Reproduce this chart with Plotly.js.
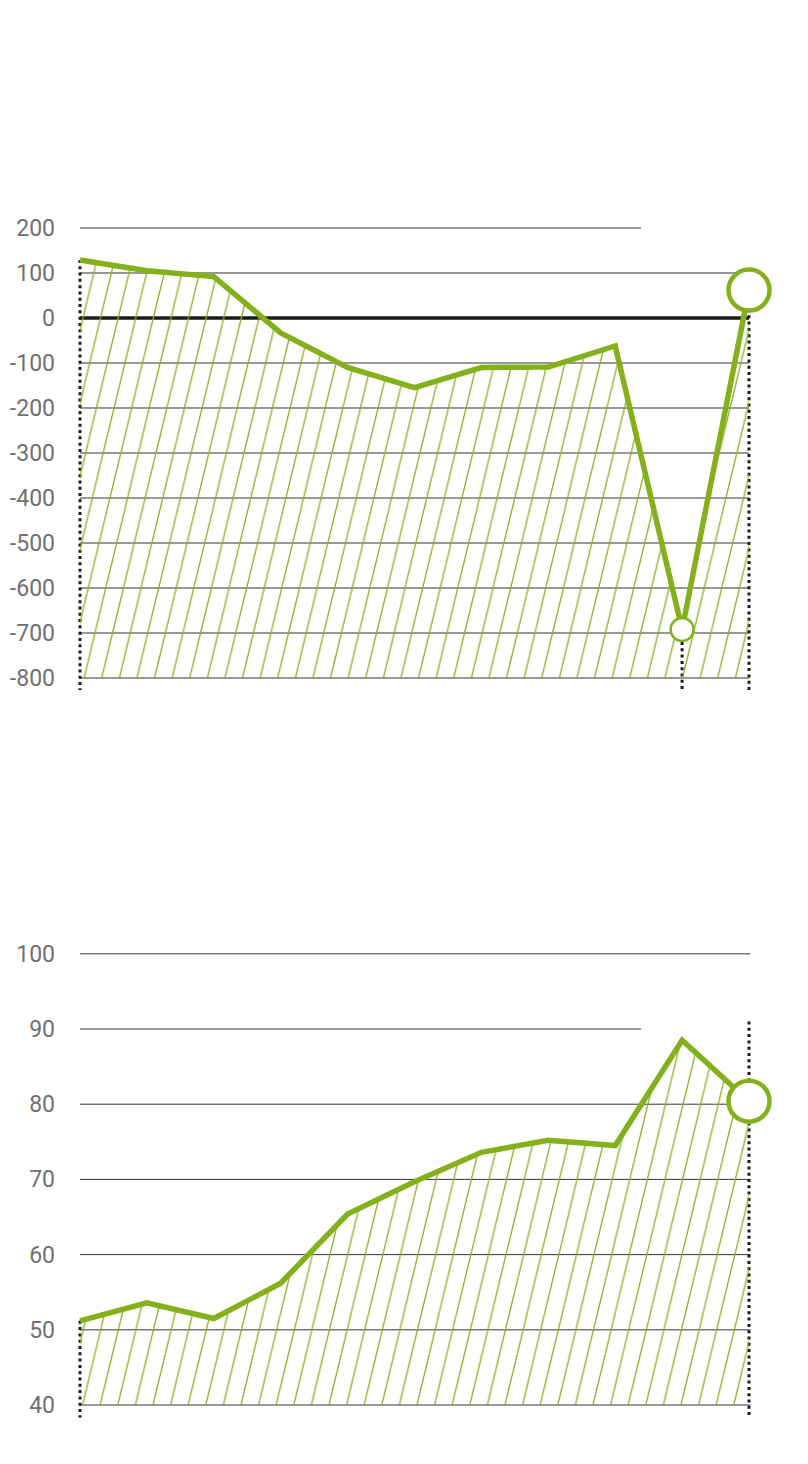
<!DOCTYPE html>
<html><head><meta charset="utf-8">
<script src="https://cdn.plot.ly/plotly-3.0.1.min.js"></script>
<style>html,body{margin:0;padding:0;background:#fff}#chart{width:808px;height:1464px}</style>
</head><body><div id="chart"></div>
<script>
// ---- data ----
const periods = [0,1,2,3,4,5,6,7,8,9,10];
const topValues = [129,105,92,-33,-110,-155,-110,-109,-62,-692,62];
const topTickVals = [200,100,0,-100,-200,-300,-400,-500,-600,-700,-800];
const topTickText = ["200","100","0","-100","-200","-300","-400","-500","-600","-700","-800"];
const bottomValues = [51.2,53.6,51.5,56.2,65.4,69.7,73.6,75.2,74.5,88.5,80.4];
const bottomTickVals = [100,90,80,70,60,50,40];
const bottomTickText = ["100","90","80","70","60","50","40"];
const bottomGuideTop = 91;

// ---- style ----
const GREEN = '#84b01b';
const GRID = '#333';
const DOT = '#1a1a1a';
const topRange = [-827, 205];
const botRange = [38.3, 101];
const xRange = [-10/66.9, 10 + 59/66.9];
const last = periods.length - 1;

const topBase = topTickVals[topTickVals.length-1];
const botBase = bottomTickVals[bottomTickVals.length-1];

function dotted(x, y0, y1, ax) {
  return {x:[x,x], y:[y0,y1], xaxis:'x'+ax, yaxis:'y'+ax, mode:'lines',
    line:{color:DOT, width:3, dash:'3px,3.3px'}, hoverinfo:'skip', showlegend:false, cliponaxis:false};
}
function marker(x, y, size, lw, ax) {
  return {x:[x], y:[y], xaxis:'x'+ax, yaxis:'y'+ax, mode:'markers',
    marker:{size:size, color:'#fff', line:{color:GREEN, width:lw}},
    hoverinfo:'skip', showlegend:false, cliponaxis:false};
}
const pattern = {shape:'/', fgcolor:GREEN, bgcolor:'rgba(0,0,0,0)', size:10, solidity:0.075, fillmode:'replace'};

const traces = [
  dotted(periods[0], topValues[0], topRange[0], ''),
  dotted(periods[9], topValues[9], topRange[0], ''),
  dotted(periods[last], topValues[last], topRange[0], ''),
  {x:periods, y:periods.map(()=>topBase), mode:'lines', line:{width:0}, hoverinfo:'skip', showlegend:false},
  {x:periods, y:topValues, mode:'lines', fill:'tonexty', fillcolor:'rgba(0,0,0,0)', fillpattern:pattern,
   line:{color:GREEN, width:5.5}, hoverinfo:'skip', showlegend:false, cliponaxis:false},
  marker(periods[9], topValues[9], 23, 2.5, ''),
  marker(periods[last], topValues[last], 41, 4.5, ''),

  dotted(periods[0], bottomValues[0], botRange[0], '2'),
  dotted(periods[last], bottomGuideTop, botRange[0], '2'),
  {x:periods, y:periods.map(()=>botBase), xaxis:'x2', yaxis:'y2', mode:'lines', line:{width:0}, hoverinfo:'skip', showlegend:false},
  {x:periods, y:bottomValues, xaxis:'x2', yaxis:'y2', mode:'lines', fill:'tonexty', fillcolor:'rgba(0,0,0,0)', fillpattern:pattern,
   line:{color:GREEN, width:5.5}, hoverinfo:'skip', showlegend:false, cliponaxis:false},
  marker(periods[last], bottomValues[last], 41, 4.5, '2')
];

const shapes = [];
topTickVals.forEach(v => {
  if (v === 0) return;
  shapes.push({type:'line', xref:'x', yref:'y', x0:0, x1:(v===200?8.385:10), y0:v, y1:v, line:{color:GRID, width:1}, layer:'below'});
});
shapes.push({type:'line', xref:'x', yref:'y', x0:0, x1:10, y0:0, y1:0, line:{color:'#1a1a1a', width:3.5}, layer:'below'});
bottomTickVals.forEach(v => {
  shapes.push({type:'line', xref:'x2', yref:'y2', x0:0, x1:(v===90?8.385:10.02), y0:v, y1:v, line:{color:GRID, width:1}, layer:'below'});
});

const tickfont = {family:'Roboto, "Noto Sans", sans-serif', size:23, weight:400, color:'#707070'};
const yBase = {showgrid:false, zeroline:false, showline:false, ticks:'', tickfont:tickfont, ticklabelstandoff:14, fixedrange:true};
const xBase = {range:xRange, showgrid:false, zeroline:false, showline:false, showticklabels:false, ticks:'', fixedrange:true};

const layout = {
  width:808, height:1464, margin:{l:70, r:0, t:0, b:0},
  paper_bgcolor:'#fff', plot_bgcolor:'rgba(0,0,0,0)', showlegend:false,
  xaxis:Object.assign({anchor:'y', domain:[0,1]}, xBase),
  xaxis2:Object.assign({anchor:'y2', domain:[0,1]}, xBase),
  yaxis:Object.assign({anchor:'x', domain:[0.52858, 0.84580], range:topRange, tickvals:topTickVals, ticktext:topTickText}, yBase),
  yaxis2:Object.assign({anchor:'x2', domain:[0.03156, 0.35363], range:botRange, tickvals:bottomTickVals, ticktext:bottomTickText}, yBase),
  shapes:shapes
};

const gd = document.getElementById('chart');
Plotly.newPlot(gd, traces, layout, {staticPlot:true, displayModeBar:false}).then(() => {
  // stretch the diagonal hatch tiles into steep hatching
  gd.querySelectorAll('pattern').forEach(p => {
    p.setAttribute('patternTransform', 'scale(1.2445,5.16)');
  });
});
</script>
</body></html>
